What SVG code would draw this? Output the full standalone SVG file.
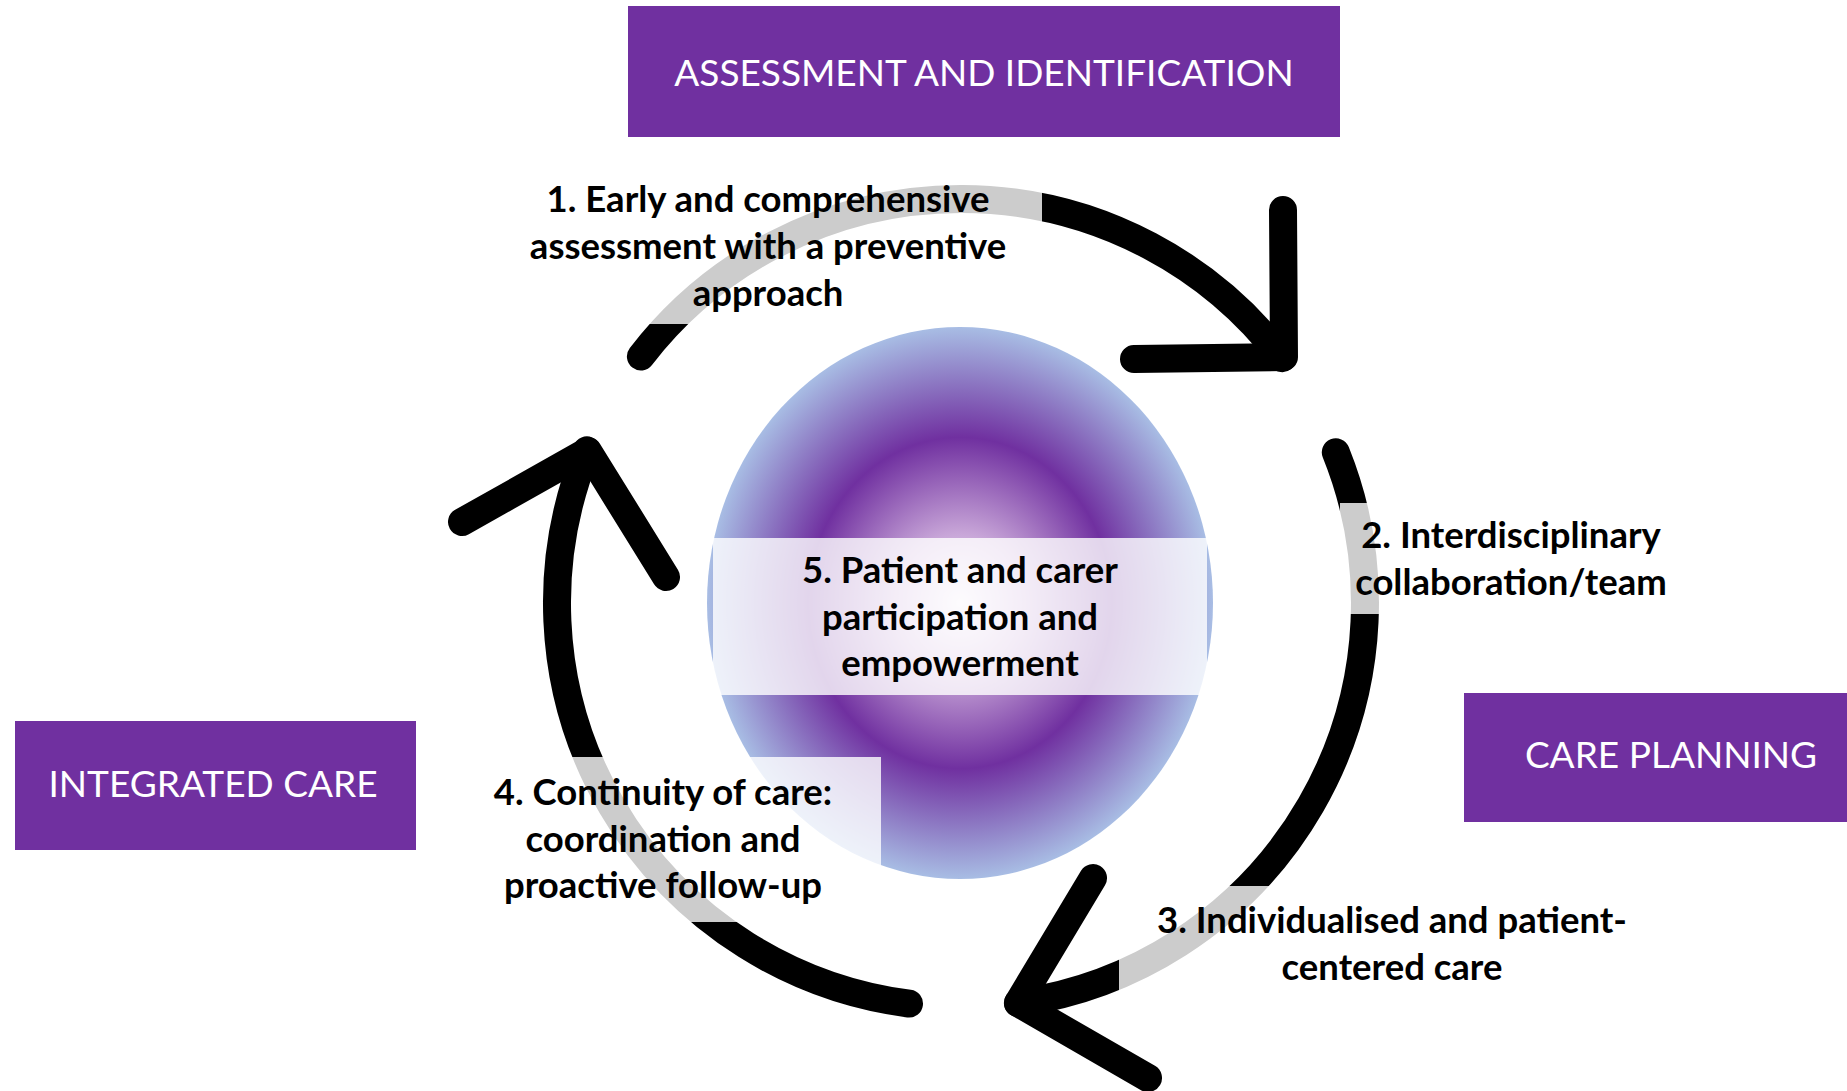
<svg xmlns="http://www.w3.org/2000/svg" width="1847" height="1091" viewBox="0 0 1847 1091">
<defs>
<radialGradient id="core" cx="50%" cy="50%" r="50%">
<stop offset="0" stop-color="#f4ecf8"/>
<stop offset="0.25" stop-color="#c8a6d8"/>
<stop offset="0.6" stop-color="#7030a0"/>
<stop offset="1" stop-color="#a8bde4"/>
</radialGradient>
<style>
.stage{fill:#7030a0}
.stagetxt{font-family:Lato,"Liberation Sans",sans-serif;font-size:37px;fill:#ffffff;text-anchor:middle}
.lbl{font-family:Lato,"Liberation Sans",sans-serif;font-weight:bold;font-size:36.5px;fill:#000000;text-anchor:middle}
.veil{fill:#ffffff;fill-opacity:0.8}
.arc{fill:none;stroke:#000000;stroke-width:28;stroke-linecap:round;stroke-linejoin:round}
</style>
</defs>
<rect width="1847" height="1091" fill="#ffffff"/>
<g id="stage-assessment">
<rect class="stage" x="628" y="6" width="712" height="131"/>
<text class="stagetxt" x="984" y="86">ASSESSMENT AND IDENTIFICATION</text>
</g>
<g id="stage-care-planning">
<rect class="stage" x="1464" y="693" width="383" height="129"/>
<text class="stagetxt" x="1671" y="768">CARE PLANNING</text>
</g>
<g id="stage-integrated-care">
<rect class="stage" x="15" y="721" width="401" height="129"/>
<text class="stagetxt" x="213" y="797">INTEGRATED CARE</text>
</g>
<g id="core-circle">
<ellipse cx="960" cy="603" rx="253" ry="276" fill="url(#core)"/>
</g>
<g id="connectors">
<path class="arc" d="M640.9,356.5 A404,404 0 0 1 1282.4,358.2"/>
<polyline class="arc" points="1283,210 1284,357 1134,359"/>
<path class="arc" d="M1335.8,452.3 A404,404 0 0 1 1017.9,1003"/>
<polyline class="arc" points="1093,878 1018,1003 1148,1078"/>
<path class="arc" d="M909,1003.6 A404,404 0 0 1 586.9,450.4"/>
<polyline class="arc" points="462,522 588,451 666,577"/>
</g>
<g id="node-1">
<rect class="veil" x="494" y="170" width="548" height="154"/>
<text class="lbl" x="768" y="212">1. Early and comprehensive</text>
<text class="lbl" x="768" y="259">assessment with a preventive</text>
<text class="lbl" x="768" y="306">approach</text>
</g>
<g id="node-2">
<rect class="veil" x="1340" y="503" width="342" height="111"/>
<text class="lbl" x="1511" y="548">2. Interdisciplinary</text>
<text class="lbl" x="1511" y="595">collaboration/team</text>
</g>
<g id="node-3">
<rect class="veil" x="1119" y="886" width="546" height="110"/>
<text class="lbl" x="1392" y="933">3. Individualised and patient-</text>
<text class="lbl" x="1392" y="980">centered care</text>
</g>
<g id="node-4">
<rect class="veil" x="445" y="757" width="436" height="165"/>
<text class="lbl" x="663" y="805">4. Continuity of care:</text>
<text class="lbl" x="663" y="852">coordination and</text>
<text class="lbl" x="663" y="898">proactive follow-up</text>
</g>
<g id="node-5">
<rect class="veil" x="713" y="538" width="494" height="157"/>
<text class="lbl" x="960" y="583">5. Patient and carer</text>
<text class="lbl" x="960" y="630">participation and</text>
<text class="lbl" x="960" y="676">empowerment</text>
</g>
</svg>
